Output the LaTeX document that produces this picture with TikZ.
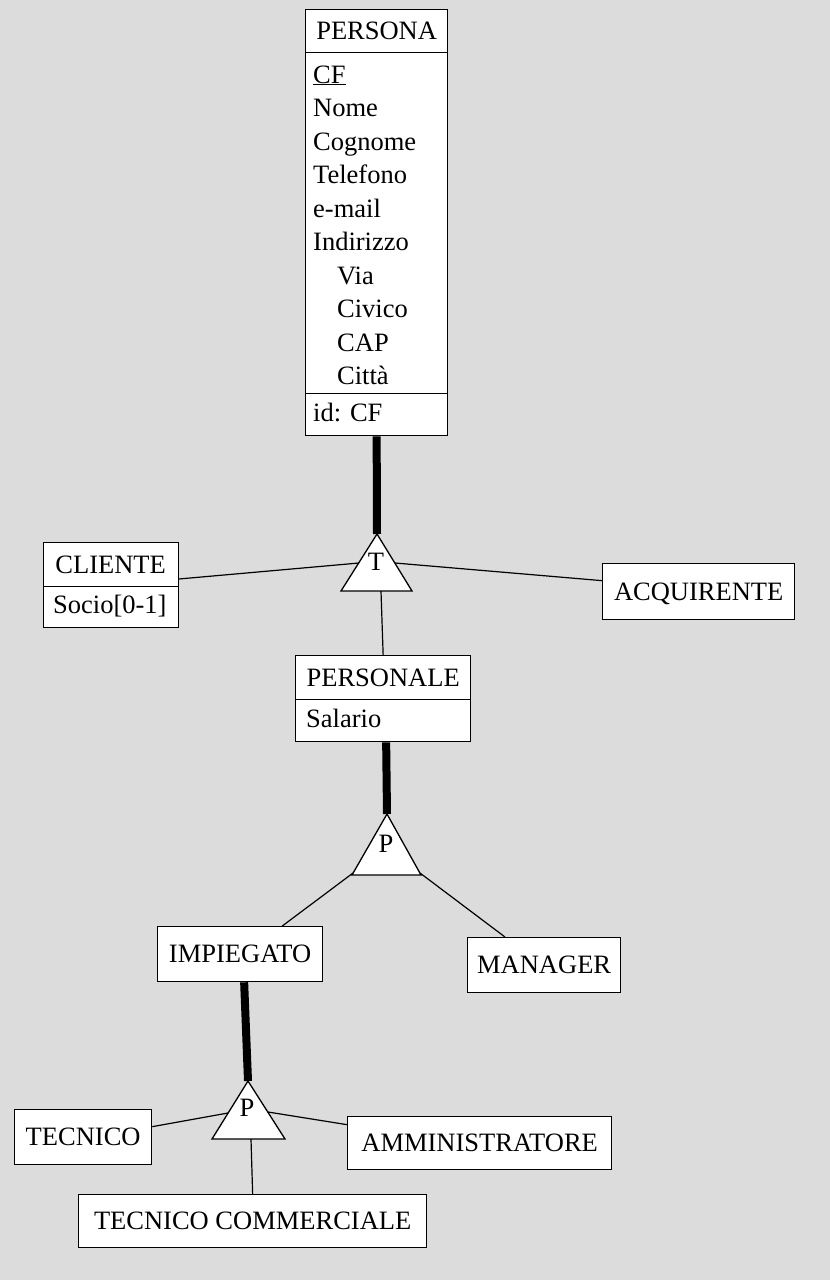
\documentclass[tikz,border=0pt]{standalone}
\usepackage{fontspec}
\setmainfont{Liberation Serif}
\definecolor{bg}{RGB}{220,220,220}
\begin{document}
\begin{tikzpicture}[x=1pt,y=-1pt,
  txt/.style={font=\fontsize{26.5}{33.5}\selectfont},
  box/.style={draw, fill=white, line width=1.3pt, inner sep=0pt, anchor=north west, txt},
  hdr/.style={box, text height=17.5pt, text depth=0pt},
  attr/.style={anchor=base west, inner sep=0pt, txt},
  lbl/.style={inner sep=0pt, txt, text height=17.5pt, text depth=0pt},
  tri/.style={draw, fill=white, line width=1.3pt, line join=miter},
  link/.style={draw, line width=1.2pt},
  heavy/.style={draw, line width=8pt}]
\useasboundingbox (0,0) rectangle (830,1280);
\fill[bg] (0,0) rectangle (830,1280);

% PERSONA
\node[hdr, minimum width=142pt, minimum height=43pt] (persona) at (305,9) {PERSONA};
\node[box, minimum width=142pt, minimum height=341pt] (personaattr) at (305,52) {};
\node[box, minimum width=142pt, minimum height=42pt] (personaid) at (305,393) {};
\node[attr] (aCF) at (313,83) {\underline{CF}};
\node[attr] (aNome) at (313,116.5) {Nome};
\node[attr] (aCognome) at (313,150) {Cognome};
\node[attr] (aTel) at (313,183.5) {Telefono};
\node[attr] (aMail) at (313,217) {e-mail};
\node[attr] (aInd) at (313,250.5) {Indirizzo};
\node[attr] (aVia) at (337,284) {Via};
\node[attr] (aCiv) at (337,317.5) {Civico};
\node[attr] (aCAP) at (337,351) {CAP};
\node[attr] (aCit) at (337,384.5) {Città};
\node[attr] (aId) at (313,421) {id: CF};

% CLIENTE
\node[hdr, minimum width=135pt, minimum height=44pt] (cliente) at (42.5,542) {CLIENTE};
\node[box, minimum width=135pt, minimum height=41pt] (clienteattr) at (42.5,586) {};
\node[attr] (aSocio) at (53,613) {Socio[0-1]};

% ACQUIRENTE
\node[hdr, minimum width=192pt, minimum height=56pt] (acq) at (602,563) {ACQUIRENTE};

% PERSONALE
\node[hdr, minimum width=175pt, minimum height=44pt] (personale) at (295,655) {PERSONALE};
\node[box, minimum width=175pt, minimum height=42pt] (personaleattr) at (295,699) {};
\node[attr] (aSal) at (306,727) {Salario};

% IMPIEGATO, MANAGER
\node[hdr, minimum width=165pt, minimum height=55pt] (impiegato) at (157,926) {IMPIEGATO};
\node[hdr, minimum width=153pt, minimum height=55pt] (manager) at (467,937) {MANAGER};

% bottom level
\node[hdr, minimum width=137pt, minimum height=55pt] (tecnico) at (14,1109) {TECNICO};
\node[hdr, minimum width=264pt, minimum height=53pt] (amm) at (347,1116) {AMMINISTRATORE};
\node[hdr, minimum width=348pt, minimum height=53pt] (tc) at (78,1194) {TECNICO COMMERCIALE};

% triangles
\coordinate (t1a) at (377,534); \coordinate (t1l) at (341,591); \coordinate (t1r) at (412,591);
\coordinate (t2a) at (387,814); \coordinate (t2l) at (352,875); \coordinate (t2r) at (421,875);
\coordinate (t3a) at (248,1081); \coordinate (t3l) at (212,1139); \coordinate (t3r) at (285,1139);
\draw[tri] (t1a) -- (t1l) -- (t1r) -- cycle;
\draw[tri] (t2a) -- (t2l) -- (t2r) -- cycle;
\draw[tri] (t3a) -- (t3l) -- (t3r) -- cycle;
\node[lbl] (g1) at (376,562) {T};
\node[lbl] (g2) at (386,844) {P};
\node[lbl] (g3) at (247,1108) {P};

% connection points on triangles
\coordinate (t1lc) at (359,563); \coordinate (t1rc) at (395,563); \coordinate (t1b) at (381,591);
\coordinate (t2lc) at (353,873); \coordinate (t2rc) at (420,873);
\coordinate (t3lc) at (228,1113); \coordinate (t3rc) at (268,1112); \coordinate (t3b) at (251,1139);

% connectors
\path[heavy] (personaid.south) -- (t1a);
\path[link] ([yshift=7pt]clienteattr.north east) -- (t1lc);
\path[link] (t1rc) -- ([yshift=11pt]acq.west);
\path[link] (t1b) -- (personale.north);
\path[heavy] ([xshift=3pt]personaleattr.south) -- (t2a);
\path[link] (t2lc) -- ([xshift=-41pt]impiegato.north east);
\path[link] (t2rc) -- ([xshift=38pt]manager.north west);
\path[heavy] ([xshift=4pt]impiegato.south) -- (t3a);
\path[link] ([yshift=10.5pt]tecnico.east) -- (t3lc);
\path[link] (t3rc) -- ([yshift=18.5pt]amm.west);
\path[link] (t3b) -- (tc.north);
\end{tikzpicture}
\end{document}
